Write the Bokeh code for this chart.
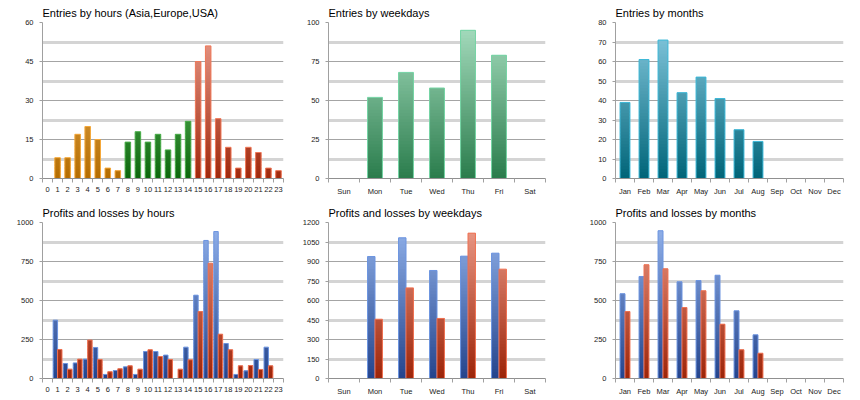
import numpy as np
from bokeh.plotting import figure
from bokeh.models import Range1d, FixedTicker, ColumnDataSource
from bokeh.layouts import gridplot
from bokeh.embed import file_html
from bokeh.resources import INLINE

HOURS = [str(h) for h in range(24)]
DAYS = ["Sun", "Mon", "Tue", "Wed", "Thu", "Fri", "Sat"]
MONTHS = ["Jan", "Feb", "Mar", "Apr", "May", "Jun", "Jul", "Aug", "Sep", "Oct", "Nov", "Dec"]

hour_entries = [0, 8, 8, 17, 20, 15, 4, 3, 14, 18, 14, 17, 11, 17, 22, 45, 51, 23, 12, 4, 12, 10, 4, 3]
hour_region = ["Asia"] * 8 + ["Europe"] * 7 + ["USA"] * 9
hour_profits = [0, 374, 96, 100, 124, 199, 26, 51, 75, 26, 173, 173, 150, 0, 201, 534, 885, 942, 224, 26, 49, 122, 201, 0]
hour_losses = [0, 186, 60, 124, 246, 122, 43, 62, 81, 60, 184, 141, 122, 60, 120, 429, 739, 284, 184, 81, 83, 58, 81, 0]

day_entries = [0, 52, 68, 58, 95, 79, 0]
day_profits = [0, 938, 1082, 831, 941, 964, 0]
day_losses = [0, 456, 697, 462, 1118, 841, 0]

month_entries = [39, 61, 71, 44, 52, 41, 25, 19, 0, 0, 0, 0]
month_profits = [543, 654, 947, 620, 628, 662, 434, 280, 0, 0, 0, 0]
month_losses = [429, 729, 703, 455, 562, 348, 184, 162, 0, 0, 0, 0]

hour_ticks = [0, 15, 30, 45, 60]
day_entry_ticks = [0, 25, 50, 75, 100]
day_pl_ticks = [0, 150, 300, 450, 600, 750, 900, 1050, 1200]
month_entry_ticks = [0, 10, 20, 30, 40, 50, 60, 70, 80]
pl_ticks = [0, 250, 500, 750, 1000]

STYLE = {
    "Asia": ("#b46c00", "#f5c070", "#f5a83a"),
    "Europe": ("#0c660c", "#80d880", "#4cb04c"),
    "USA": ("#a0280c", "#eca090", "#f07858"),
    "profit": ("#24448c", "#94b4ec", "#6c94e0"),
    "loss": ("#9c2408", "#ec9c8a", "#f07050"),
    "day": ("#2a7c4c", "#a8dec0", "#74d4a4"),
    "month": ("#006478", "#8acce2", "#3cb8d8"),
}

FONT = "Liberation Sans"


def lerp_hex(c1, c2, t):
    a = [int(c1[i:i + 2], 16) for i in (1, 3, 5)]
    b = [int(c2[i:i + 2], 16) for i in (1, 3, 5)]
    return "#%02x%02x%02x" % tuple(int(round(a[k] + (b[k] - a[k]) * t)) for k in range(3))


def add_bars(p, idx, vals, width, offset, ymax, style, nseg=50):
    dark, light, outline = STYLE[style]
    levels = np.linspace(0, ymax, nseg + 1)
    step = levels[1] - levels[0]
    xs, bots, tops, cols = [], [], [], []
    ox, ot = [], []
    for i, v in zip(idx, vals):
        if v <= 0:
            continue
        ox.append(i + offset)
        ot.append(v)
        for k in range(nseg):
            lo, hi = levels[k], levels[k + 1]
            if lo >= v:
                break
            xs.append(i + offset)
            bots.append(lo)
            tops.append(min(hi + step * 0.6, v))
            cols.append(lerp_hex(dark, light, (lo + min(hi, v)) / 2 / ymax))
    src = ColumnDataSource(dict(x=xs, bottom=bots, top=tops, c=cols))
    p.vbar(x="x", bottom="bottom", top="top", width=width, source=src,
           fill_color="c", line_color=None)
    p.vbar(x=ox, bottom=0, top=ot, width=width, fill_alpha=0,
           line_color=outline, line_width=1)


def make_fig(title, w, h, bl, br, bt, bb, labels, ymax, yticks, gmajor, gminor):
    n = len(labels)
    p = figure(width=w, height=h, output_backend="svg", toolbar_location=None,
               x_range=Range1d(-0.5, n - 0.5), y_range=Range1d(0, ymax),
               min_border_left=bl, min_border_right=br, min_border_top=bt,
               min_border_bottom=bb)
    p.title.text = title
    p.title.text_font = FONT
    p.title.text_font_size = "11px"
    p.title.text_font_style = "normal"
    p.title.text_color = "#000000"
    p.title.standoff = 8
    p.outline_line_color = None
    p.background_fill_color = "white"
    p.border_fill_color = "white"

    p.xaxis.ticker = FixedTicker(ticks=list(range(n)),
                                 minor_ticks=[i - 0.5 for i in range(n + 1)])
    p.xaxis.major_label_overrides = {i: lab for i, lab in enumerate(labels)}
    p.xaxis.major_tick_out = 0
    p.xaxis.major_tick_in = 0
    p.xaxis.minor_tick_out = 4
    p.xaxis.minor_tick_in = 0
    p.xaxis.minor_tick_line_color = "#a0a0a0"
    p.xaxis.axis_line_color = "#909090"
    p.xaxis.major_label_standoff = 4
    p.xaxis.major_label_text_font = FONT
    p.xaxis.major_label_text_font_size = "7.5px"
    p.xaxis.major_label_text_color = "#222222"

    p.yaxis.ticker = FixedTicker(ticks=yticks, minor_ticks=[])
    p.yaxis.major_tick_out = 3
    p.yaxis.major_tick_in = 0
    p.yaxis.minor_tick_out = 0
    p.yaxis.minor_tick_in = 0
    p.yaxis.axis_line_color = "#a0a0a0"
    p.yaxis.major_tick_line_color = "#a0a0a0"
    p.yaxis.major_label_standoff = 6
    p.yaxis.major_label_text_font = FONT
    p.yaxis.major_label_text_font_size = "7.5px"
    p.yaxis.major_label_text_color = "#222222"

    p.xgrid.visible = False
    p.ygrid.ticker = FixedTicker(ticks=gmajor, minor_ticks=gminor)
    p.ygrid.grid_line_color = "#a4a4a4"
    p.ygrid.grid_line_width = 1
    p.ygrid.minor_grid_line_color = "#d4d4d4"
    p.ygrid.minor_grid_line_width = 3
    return p


def mids(t):
    return [(a + b) / 2 for a, b in zip(t[:-1], t[1:])]


W1, W2, W3 = 288, 287, 285
# Row 1
p1 = make_fig("Entries by hours (Asia,Europe,USA)", W1, 200, 42, 5, 22, 22,
              HOURS, 60, hour_ticks, hour_ticks, mids(hour_ticks))
for reg in ["Asia", "Europe", "USA"]:
    idx = [i for i, r in enumerate(hour_region) if r == reg]
    add_bars(p1, idx, [hour_entries[i] for i in idx], 0.55, 0.0, 60, reg)

p2 = make_fig("Entries by weekdays", W2, 200, 40, 30, 22, 22,
              DAYS, 100, day_entry_ticks, day_entry_ticks, mids(day_entry_ticks))
add_bars(p2, range(7), day_entries, 0.48, 0.0, 100, "day")

p3 = make_fig("Entries by months", W3, 200, 40, 17, 22, 22,
              MONTHS, 80, month_entry_ticks, month_entry_ticks[::2], month_entry_ticks[1::2])
add_bars(p3, range(12), month_entries, 0.52, 0.0, 80, "month")

# Row 2
p4 = make_fig("Profits and losses by hours", W1, 200, 42, 5, 22, 22,
              HOURS, 1000, pl_ticks, pl_ticks, mids(pl_ticks))
add_bars(p4, range(24), hour_profits, 0.44, -0.22, 1000, "profit")
add_bars(p4, range(24), hour_losses, 0.44, 0.22, 1000, "loss")

p5 = make_fig("Profits and losses by weekdays", W2, 200, 40, 30, 22, 22,
              DAYS, 1200, day_pl_ticks, day_pl_ticks[::2], day_pl_ticks[1::2])
add_bars(p5, range(7), day_profits, 0.24, -0.12, 1200, "profit")
add_bars(p5, range(7), day_losses, 0.24, 0.12, 1200, "loss")

p6 = make_fig("Profits and losses by months", W3, 200, 40, 17, 22, 22,
              MONTHS, 1000, pl_ticks, pl_ticks, mids(pl_ticks))
add_bars(p6, range(12), month_profits, 0.26, -0.13, 1000, "profit")
add_bars(p6, range(12), month_losses, 0.26, 0.13, 1000, "loss")

grid = gridplot([[p1, p2, p3], [p4, p5, p6]], toolbar_location=None)

open("out.html", "w").write(file_html(grid, INLINE))
